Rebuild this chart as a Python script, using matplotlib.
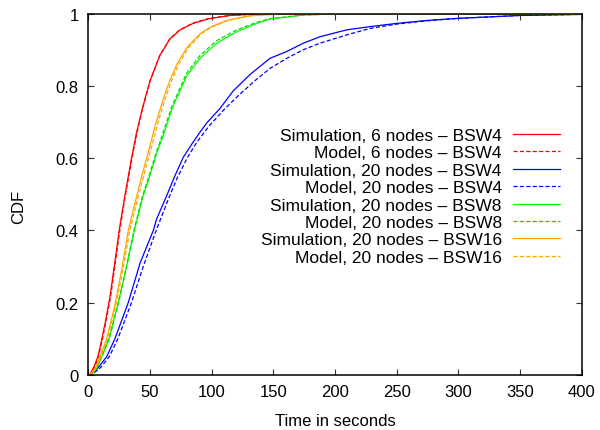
import matplotlib
matplotlib.use("Agg")
import matplotlib.pyplot as plt
from matplotlib.lines import Line2D

plt.rcParams['font.family'] = ['Liberation Sans', 'DejaVu Sans']
plt.rcParams['lines.scale_dashes'] = False

# ---- data (time in seconds, CDF) ----
red_sim_t = [0, 2, 5, 8, 11, 14, 17.5, 21, 25, 29.2, 35, 39, 43.8, 50, 58, 66, 74, 85, 98, 115, 131, 150, 400]
red_sim_y = [0, 0.005, 0.025, 0.053, 0.1, 0.15, 0.215, 0.3, 0.4, 0.488, 0.6, 0.67, 0.738, 0.815, 0.885, 0.93, 0.955, 0.974, 0.987, 0.996, 0.999, 1.0, 1.0]

red_mod_t = [0, 2.5, 5.5, 8.5, 11.5, 14.5, 18, 21.5, 25.5, 29.6, 35.4, 39.4, 44, 50.2, 58, 66, 74, 85, 98, 115, 131, 150, 400]
red_mod_y = [0, 0.005, 0.025, 0.053, 0.1, 0.15, 0.215, 0.3, 0.4, 0.488, 0.6, 0.67, 0.738, 0.815, 0.886, 0.931, 0.956, 0.975, 0.988, 0.996, 0.999, 1.0, 1.0]

blue_sim_t = [0, 3, 8.1, 14.9, 21.6, 27, 32.4, 42, 52.7, 55.4, 63.5, 70, 77, 84, 90, 96, 106.7, 117.5, 131, 147.2, 160.8, 174.2, 187.8, 209.4, 228.3, 250, 274, 300, 350, 400]
blue_sim_y = [0, 0.003, 0.02, 0.05, 0.1, 0.15, 0.2, 0.31, 0.4, 0.432, 0.496, 0.55, 0.603, 0.64, 0.67, 0.698, 0.738, 0.787, 0.832, 0.877, 0.896, 0.919, 0.937, 0.956, 0.965, 0.974, 0.982, 0.988, 0.996, 0.999]

blue_mod_t = [0, 4, 10, 17, 24, 29.5, 35, 44.5, 55, 65, 72, 80, 88, 98, 110, 122, 135, 147.2, 160.8, 174.2, 187.8, 209.4, 228.3, 250, 274, 300, 350, 400]
blue_mod_y = [0, 0.003, 0.02, 0.05, 0.1, 0.15, 0.2, 0.3, 0.4, 0.488, 0.545, 0.6, 0.645, 0.69, 0.735, 0.775, 0.815, 0.849, 0.877, 0.901, 0.919, 0.942, 0.96, 0.972, 0.981, 0.988, 0.996, 0.999]

green_sim_t = [0, 4, 7, 10.8, 16.8, 20.5, 24.3, 31, 37.3, 43.8, 50, 55, 60.8, 67.6, 70.3, 79.7, 90.5, 104, 120.3, 136.5, 147.2, 174, 198, 400]
green_sim_y = [0, 0.005, 0.02, 0.05, 0.1, 0.15, 0.2, 0.3, 0.4, 0.488, 0.553, 0.61, 0.664, 0.735, 0.757, 0.828, 0.877, 0.919, 0.951, 0.974, 0.986, 0.997, 1.0, 1.0]

green_mod_t = [0, 4, 7, 11, 17, 20.7, 24.5, 31, 37, 43.3, 49.5, 55, 60.5, 67.5, 79.7, 90.5, 104, 120.3, 136.5, 147.2, 174, 198, 400]
green_mod_y = [0, 0.005, 0.02, 0.05, 0.1, 0.15, 0.2, 0.3, 0.4, 0.488, 0.555, 0.615, 0.67, 0.742, 0.836, 0.885, 0.926, 0.956, 0.977, 0.987, 0.997, 1.0, 1.0]

orange_sim_t = [0, 3, 6, 9.5, 14.9, 18.5, 22, 27.5, 32.4, 38.7, 44, 50, 55, 60.8, 66, 72, 79.7, 90.5, 98.6, 112, 131, 150, 175, 400]
orange_sim_y = [0, 0.005, 0.02, 0.05, 0.1, 0.15, 0.2, 0.3, 0.4, 0.488, 0.56, 0.635, 0.70, 0.765, 0.815, 0.862, 0.906, 0.945, 0.963, 0.982, 0.995, 0.999, 1.0, 1.0]

orange_mod_t = [0, 3.5, 6.5, 10, 15.5, 19.2, 22.8, 28.5, 33.6, 40, 45.5, 51.5, 56.5, 62.3, 67.5, 73.5, 81, 91.5, 99.5, 113, 131, 150, 175, 400]
orange_mod_y = [0, 0.005, 0.02, 0.05, 0.1, 0.15, 0.2, 0.3, 0.4, 0.488, 0.56, 0.635, 0.70, 0.765, 0.815, 0.862, 0.906, 0.945, 0.963, 0.982, 0.995, 0.999, 1.0, 1.0]

labels = [
    "Simulation, 6 nodes \u2013 BSW4",
    "Model, 6 nodes \u2013 BSW4",
    "Simulation, 20 nodes \u2013 BSW4",
    "Model, 20 nodes \u2013 BSW4",
    "Simulation, 20 nodes \u2013 BSW8",
    "Model, 20 nodes \u2013 BSW8",
    "Simulation, 20 nodes \u2013 BSW16",
    "Model, 20 nodes \u2013 BSW16",
]
xticks = [0, 50, 100, 150, 200, 250, 300, 350, 400]
yticks = [0, 0.2, 0.4, 0.6, 0.8, 1]
ytick_labels = ["0", "0.2", "0.4", "0.6", "0.8", "1"]

# ---- figure ----
fig = plt.figure(figsize=(6.0, 4.31), dpi=100)
ax = fig.add_axes([0.1472, 0.1283, 0.8225, 0.8369])

sim_style = dict(linestyle='-', linewidth=0.9)
mod_style = dict(linestyle=(0, (3, 1.6)), linewidth=0.9)

series = [
    (red_sim_t, red_sim_y, '#ff0000', sim_style),
    (red_mod_t, red_mod_y, '#ff0000', mod_style),
    (blue_sim_t, blue_sim_y, '#0000ff', sim_style),
    (blue_mod_t, blue_mod_y, '#0000ff', mod_style),
    (green_sim_t, green_sim_y, '#00ff00', sim_style),
    (green_mod_t, green_mod_y, '#00dd00', mod_style),
    (orange_sim_t, orange_sim_y, '#ffa500', sim_style),
    (orange_mod_t, orange_mod_y, '#ffa500', mod_style),
]
for t, y, c, st in series:
    ax.plot(t, y, color=c, **st)

ax.set_xlim(0, 400)
ax.set_ylim(0, 1)
ax.set_xticks(xticks)
ax.set_xticklabels([str(v) for v in xticks])
ax.set_yticks(yticks)
ax.set_yticklabels(ytick_labels)
ax.tick_params(direction='in', length=4, width=0.8, top=True, right=True,
               labelsize=12, colors='#333333', labelcolor='black')
ax.tick_params(axis='x', pad=6.5)
ax.tick_params(axis='y', pad=7)
for s in ax.spines.values():
    s.set_linewidth(1.1)
    s.set_zorder(3)

ax.set_xlabel("Time in seconds", fontsize=12)
ax.set_ylabel("CDF", fontsize=12)
ax.xaxis.set_label_coords(0.5, -0.126)
ax.yaxis.set_label_coords(-0.142, 0.468)
ax.xaxis.label.set_va('center')
ax.yaxis.label.set_va('center')

# ---- gnuplot-style key ----
y0 = 0.667
dy = 0.0481
for i, (t, y, c, st) in enumerate(series):
    yy = y0 - i * dy
    ax.text(0.838, yy, labels[i], transform=ax.transAxes, ha='right',
            va='center_baseline', fontsize=12.5)
    ax.add_line(Line2D([0.861, 0.956], [yy, yy], transform=ax.transAxes,
                       color=c, **st))

fig.savefig("out.png", dpi=100)
